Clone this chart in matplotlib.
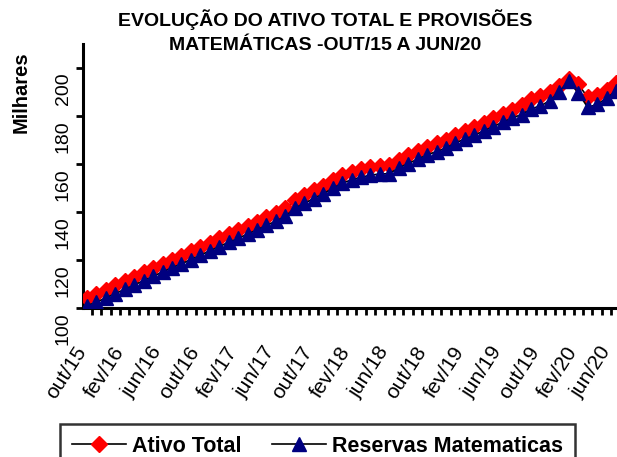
import matplotlib
matplotlib.use("Agg")
import matplotlib.pyplot as plt
import matplotlib.transforms as mtransforms
from matplotlib.ticker import FixedLocator

plt.rcParams['font.family'] = ['Liberation Sans', 'DejaVu Sans']

month_labels = ["out/15", "fev/16", "jun/16", "out/16", "fev/17", "jun/17", "out/17",
                "fev/18", "jun/18", "out/18", "fev/19", "jun/19", "out/19", "fev/20", "jun/20"]

ativo_total = [104.2, 105.8, 107.6, 109.5, 111.2, 113.0, 114.8, 116.6, 118.4, 120.0,
               121.8, 123.6, 125.4, 127.2, 129.0, 130.8, 132.4, 134.2, 136.0, 137.8,
               139.6, 141.5, 145.0, 147.0, 149.0, 151.0, 153.2, 155.4, 156.8, 157.8,
               158.6, 159.0, 159.4, 161.8, 163.6, 165.4, 167.2, 168.8, 170.0, 172.2,
               173.8, 175.4, 177.2, 179.0, 180.8, 182.6, 184.4, 187.0, 188.4, 190.0,
               192.4, 195.6, 193.2, 187.8, 188.8, 191.0, 193.6]

reservas = [101.0, 102.4, 104.2, 106.0, 107.8, 109.6, 111.4, 113.2, 115.0, 116.8,
            118.4, 120.2, 122.0, 123.8, 125.6, 127.4, 129.0, 130.8, 132.6, 134.4,
            136.2, 138.2, 141.6, 143.6, 145.6, 147.6, 149.8, 152.0, 153.4, 154.4,
            155.4, 155.8, 156.0, 158.4, 160.2, 162.0, 163.8, 165.2, 166.6, 168.8,
            170.4, 172.0, 173.8, 175.6, 177.4, 179.2, 180.6, 183.0, 184.2, 186.4,
            190.2, 194.6, 189.6, 183.6, 184.8, 187.4, 190.4]

y_ticks = [100, 120, 140, 160, 180, 200]

n = len(ativo_total)
x = list(range(n))

W, H = 617, 457
fig = plt.figure(figsize=(W / 100, H / 100), dpi=100)
ax = fig.add_axes([83 / W, (H - 308) / H, (W - 83) / W, (308 - 44) / H])

ax.plot(x, ativo_total, color='black', lw=1.2, marker='D', markersize=8,
        markerfacecolor='#FF0000', markeredgecolor='#FF0000', label='Ativo Total', zorder=3)
ax.plot(x, reservas, color='black', lw=1.2, marker='^', markersize=10,
        markerfacecolor='#000080', markeredgecolor='#000080', label='Reservas Matematicas', zorder=4)

ax.set_xlim(-0.42, 56.1)
ax.set_ylim(100, 210)

for s in ['top', 'right']:
    ax.spines[s].set_visible(False)
for s in ['left', 'bottom']:
    ax.spines[s].set_linewidth(2.2)
    ax.spines[s].set_color('black')

ax.set_yticks(y_ticks)
ax.set_yticklabels([str(v) for v in y_ticks], rotation=90, va='top', fontsize=14)
ax.tick_params(axis='y', direction='out', length=5, width=2, pad=3)
yoff = mtransforms.ScaledTranslation(0, -4 / 100, fig.dpi_scale_trans)
for lab in ax.get_yticklabels():
    lab.set_transform(lab.get_transform() + yoff)

ax.set_xticks(list(range(0, n, 4)))
ax.set_xticklabels(month_labels, rotation=57, ha='right', va='center',
                   rotation_mode='anchor', fontsize=15)
ax.tick_params(axis='x', which='major', length=0, pad=29)
xlabels = ax.get_xticklabels()
for i, lab in enumerate(xlabels):
    dx = -9 if i == len(xlabels) - 1 else -5
    lab.set_transform(lab.get_transform() +
                      mtransforms.ScaledTranslation(dx / 100, 0, fig.dpi_scale_trans))
ax.xaxis.set_minor_locator(FixedLocator([k + 0.5 for k in range(-1, n)]))
ax.tick_params(axis='x', which='minor', direction='out', length=5, width=2)

fig.text(325 / W, 1 - 20 / H, "EVOLUÇÃO DO ATIVO TOTAL E PROVISÕES", ha='center', va='center',
         fontsize=14, fontweight='bold')
fig.text(325 / W, 1 - 45 / H, "MATEMÁTICAS -OUT/15 A JUN/20", ha='center', va='center',
         fontsize=14, fontweight='bold')

fig.text(21 / W, 1 - 92 / H, "Milhares", rotation=90, ha='center', va='center',
         fontsize=14.5, fontweight='bold')

leg = fig.legend(loc='upper left', bbox_to_anchor=(60 / W, 1 - 424 / H), ncol=2,
                 frameon=True, fancybox=False, edgecolor='black', borderaxespad=0,
                 prop={'size': 15.5, 'weight': 'bold'}, handlelength=2.5, columnspacing=1.4,
                 borderpad=0.55, handletextpad=0.3)
leg.get_frame().set_linewidth(1.8)

fig.savefig('out.png', dpi=100)
